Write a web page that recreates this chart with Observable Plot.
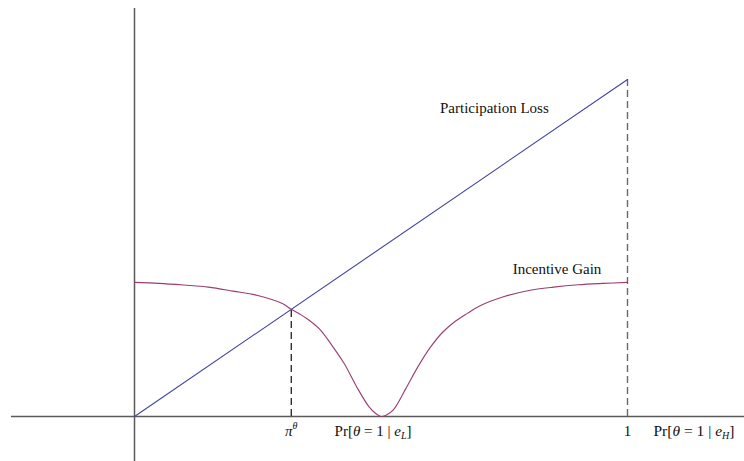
<!DOCTYPE html>
<html>
<head>
<meta charset="utf-8">
<script src="https://cdn.jsdelivr.net/npm/d3@7"></script>
<script src="https://cdn.jsdelivr.net/npm/@observablehq/plot@0.6"></script>
<style>
  html, body { margin: 0; padding: 0; background: #fff; }
  svg { display: block; }
</style>
</head>
<body>
<div id="chart"></div>
<script>
// Participation loss (straight line)
const lossX = [0, 1];
const lossY = [0, 1];

// Incentive gain
const gainX = [0, 0.05, 0.1, 0.15, 0.2, 0.25, 0.3, 0.318, 0.335, 0.35, 0.375, 0.4, 0.425, 0.45, 0.475, 0.49, 0.5, 0.51, 0.525, 0.55, 0.575, 0.6, 0.625, 0.65, 0.675, 0.7, 0.75, 0.8, 0.85, 0.9, 0.95, 1];
const gainY = [0.398, 0.395, 0.390, 0.384, 0.372, 0.359, 0.335, 0.318, 0.304, 0.290, 0.260, 0.212, 0.158, 0.090, 0.030, 0.008, 0.0, 0.004, 0.020, 0.082, 0.148, 0.205, 0.250, 0.282, 0.306, 0.328, 0.356, 0.374, 0.384, 0.391, 0.395, 0.398];

// Crossing point pi^theta and right end
const crossX = 0.318;
const crossY = 0.318;
const endX = 1;
const endY = 1;

// Labels
const curveLabels = ["Participation Loss", "Incentive Gain"];
const curveLabelX = [0.730, 0.857];
const curveLabelY = [0.902, 0.4234];

const tickLabels = ["π^θ", "Pr[θ = 1 | e_L]", "1"];
const tickLabelX = [0.318, 0.4838, 1];
const axisTitle = "Pr[θ = 1 | e_H]";
const axisTitleX = 1.0527;
const labelBaseY = -0.0564;

const xDomain = [-134 / 493, 610 / 493];
const yDomain = [-45 / 337, 416 / 337];

const gain = gainX.map((x, i) => ({x, y: gainY[i]}));
const loss = lossX.map((x, i) => ({x, y: lossY[i]}));
const curveLab = curveLabels.map((t, i) => ({t, x: curveLabelX[i], y: curveLabelY[i]}));
const tickLab = tickLabels.map((t, i) => ({t, x: tickLabelX[i], y: labelBaseY}));

const blue = "#4343a3";
const purple = "#993d71";
const axisColor = "#5a5a5a";

const chart = Plot.plot({
  width: 744,
  height: 461,
  margin: 0,
  x: {domain: xDomain, axis: null},
  y: {domain: yDomain, axis: null},
  style: {fontFamily: "'Liberation Serif', 'DejaVu Serif', serif", background: "#fff", color: "#111"},
  marks: [
    Plot.ruleY([0], {x1: -123 / 493, x2: xDomain[1], stroke: axisColor, strokeWidth: 1.5}),
    Plot.ruleX([0], {y1: yDomain[0], y2: 408 / 337, stroke: axisColor, strokeWidth: 1.5}),
    Plot.ruleX([crossX], {y1: 0, y2: crossY, stroke: "#222", strokeWidth: 1.3, strokeDasharray: "7,4"}),
    Plot.ruleX([endX], {y1: 0, y2: endY, stroke: "#6a6a6a", strokeWidth: 1.4, strokeDasharray: "7,4"}),
    Plot.line(loss, {x: "x", y: "y", stroke: blue, strokeWidth: 1.1}),
    Plot.line(gain, {x: "x", y: "y", stroke: purple, strokeWidth: 1.1, curve: "catmull-rom"}),
    Plot.text(curveLab, {x: "x", y: "y", text: "t", textAnchor: "middle", lineAnchor: "bottom", fontSize: 15, fill: "#111"}),
    Plot.text(tickLab, {x: "x", y: "y", text: "t", textAnchor: "middle", lineAnchor: "bottom", fontSize: 15, fill: "#111"}),
    Plot.text([{t: axisTitle, x: axisTitleX, y: labelBaseY}], {x: "x", y: "y", text: "t", textAnchor: "start", lineAnchor: "bottom", fontSize: 15.5, fill: "#111"})
  ]
});

document.getElementById("chart").appendChild(chart);

// Render sub/superscripts and italics as tspans (text stays real text)
function rich(el, parts) {
  const s = d3.select(el);
  s.text(null);
  for (const p of parts) {
    const t = s.append("tspan").text(p.s);
    if (p.i) t.attr("font-style", "italic");
    if (p.fs) t.attr("font-size", p.fs);
    if (p.dy) t.attr("dy", p.dy);
  }
}
d3.select(chart).selectAll("text").each(function() {
  const txt = this.textContent;
  if (txt === "π^θ") {
    rich(this, [{s: "π", i: true}, {s: "θ", i: true, fs: 10, dy: -7}]);
  } else if (txt === "Pr[θ = 1 | e_L]" || txt === "Pr[θ = 1 | e_H]") {
    const sub = txt.includes("e_L") ? "L" : "H";
    rich(this, [
      {s: "Pr["}, {s: "θ", i: true}, {s: " = 1 | "}, {s: "e", i: true},
      {s: sub, i: true, fs: 10, dy: 3}, {s: "]", dy: -3}
    ]);
  }
});
</script>
</body>
</html>
